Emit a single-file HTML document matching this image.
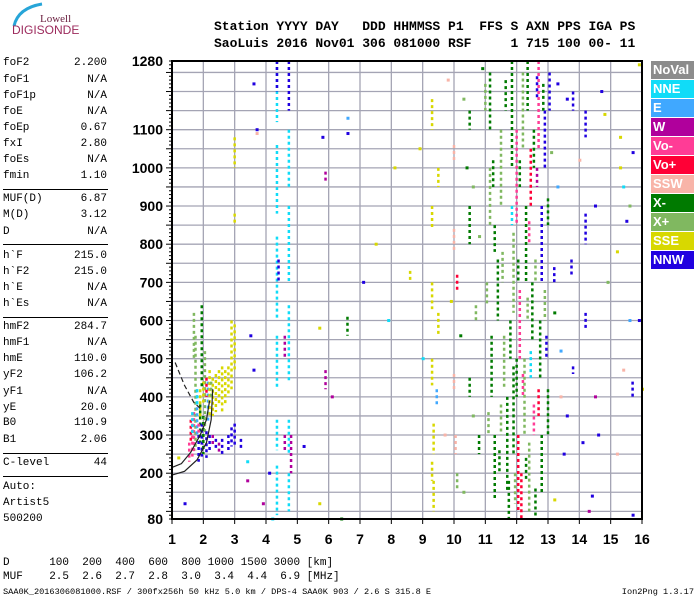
<!DOCTYPE html>
<html><head><meta charset="utf-8"><style>
body{margin:0;background:#fff;width:700px;height:600px;overflow:hidden;position:relative;font-family:"Liberation Mono",monospace}
.t{position:absolute;white-space:pre;color:#000}
.l{position:absolute;left:3px;font-size:11px;font-family:"Liberation Mono",monospace}
.v{position:absolute;right:593px;font-size:11px;font-family:"Liberation Mono",monospace}
.hr{position:absolute;left:3px;width:105px;height:1px;background:#000}
.lg{position:absolute;left:651px;width:43px;height:18px;color:#fff;font:bold 13px "Liberation Sans",sans-serif;line-height:18px;padding-left:2px;box-sizing:border-box}
</style></head><body>
<svg style="position:absolute;left:0;top:0" width="90" height="40">
<path d="M14 26 Q18 8 42 4" stroke="#27a5d8" stroke-width="3" fill="none"/>
<text x="40" y="22" font-family="Liberation Serif,serif" font-size="11" fill="#6b2040">Lowell</text>
<text x="12" y="34" font-family="Liberation Sans,sans-serif" font-size="12" fill="#9c2a5c">DIGISONDE</text>
</svg>
<div class="t" style="left:214px;top:19px;font:bold 13px 'Liberation Mono',monospace">Station YYYY DAY   DDD HHMMSS P1  FFS S AXN PPS IGA PS</div>
<div class="t" style="left:214px;top:36px;font:bold 13px 'Liberation Mono',monospace">SaoLuis 2016 Nov01 306 081000 RSF     1 715 100 00- 11</div>
<div id="params"></div>
<svg id="chart" style="position:absolute;left:0;top:0" width="700" height="560"></svg>
<div id="legend"></div>
<div class="t" style="left:3px;top:557px;font-size:11px">D      100  200  400  600  800 1000 1500 3000 [km]</div>
<div class="t" style="left:3px;top:571px;font-size:11px">MUF    2.5  2.6  2.7  2.8  3.0  3.4  4.4  6.9 [MHz]</div>
<div class="t" style="left:3px;top:587px;font-size:8.6px">SAA0K_2016306081000.RSF / 300fx256h 50 kHz 5.0 km / DPS-4 SAA0K 903 / 2.6 S 315.8 E</div>
<div class="t" style="right:6px;top:587px;font-size:8.6px">Ion2Png 1.3.17</div>
<script>
const paramNames=["foF2","foF1","foF1p","foE","foEp","fxI","foEs","fmin","MUF(D)","M(D)","D","h`F","h`F2","h`E","h`Es","hmF2","hmF1","hmE","yF2","yF1","yE","B0","B1","C-level","Auto:","Artist5","500200"];
const paramValues=["2.200","N/A","N/A","N/A","0.67","2.80","N/A","1.10","6.87","3.12","N/A","215.0","215.0","N/A","N/A","284.7","N/A","110.0","106.2","N/A","20.0","110.9","2.06","44","","",""];
const paramY=[57,74,90,106,122,138,154,170,193,209,226,250,266,282,298,321,337,353,369,386,402,417,434,457,481,497,513];
const dividers=[189,244,317,453,476];
const P=document.getElementById('params');
paramNames.forEach((n,i)=>{
 const a=document.createElement('div');a.className='l';a.style.top=paramY[i]+'px';a.textContent=n;
 
 
 P.appendChild(a);
 const b=document.createElement('div');b.className='v';b.style.top=paramY[i]+'px';b.textContent=paramValues[i];
 
 
 P.appendChild(b);
});
dividers.forEach(y=>{const d=document.createElement('div');d.className='hr';d.style.top=y+'px';
 
 
 P.appendChild(d);});

const legendNames=["NoVal","NNE","E","W","Vo-","Vo+","SSW","X-","X+","SSE","NNW"];
const colors=["#8c8c8c","#10dcf8","#40a8ff","#b0009c","#ff3c96","#ff0036","#f8b4a8","#007a00","#80b860","#d8d800","#2000e0"];
const L=document.getElementById('legend');
legendNames.forEach((n,i)=>{const d=document.createElement('div');d.className='lg';d.style.top=(61+i*19)+'px';d.style.background=colors[i];d.textContent=n;
 
 
 L.appendChild(d);});

const xTicks=[1,2,3,4,5,6,7,8,9,10,11,12,13,14,15,16];
const yTicks=[80,200,300,400,500,600,700,800,900,1000,1100,1280];
// streaks: [freq MHz, h low km, h high km, color index]
const streaks=[
[1.55,230,280,4],[1.65,240,330,4],[1.7,250,360,4],[1.75,260,560,8],[1.8,300,420,2],[1.85,230,300,10],[1.9,280,380,7],[1.95,240,330,10],[2.0,250,350,7],[2.05,300,520,8],[2.1,240,310,10],[2.15,330,440,2],[2.2,350,470,9],[2.3,350,450,9],[2.4,360,460,9],[2.5,380,470,9],[2.6,360,480,9],[2.7,380,470,9],[2.8,400,480,9],[2.9,420,600,9],[3.0,470,590,9],[1.9,340,420,9],[2.0,380,440,9],[1.8,380,420,1],[2.2,260,300,10],[2.4,260,290,10],[2.6,250,290,10],[2.8,260,300,10],[2.9,270,320,10],[3.0,270,330,10],[2.5,250,280,3],[1.7,500,620,8],[1.95,420,640,7],[1.6,280,340,5],[2.1,400,450,5],[1.85,300,330,4],[3.2,260,290,10],[2.3,270,300,3],[1.65,300,360,1],[2.25,400,440,8],
[3.0,1000,1080,9],[3.0,850,880,9],
[4.35,1120,1280,1],[4.35,880,1060,1],[4.35,600,820,1],[4.35,420,560,1],[4.35,260,340,1],[4.35,90,220,1],[4.35,1200,1280,10],[4.4,700,760,10],
[4.73,1150,1280,10],[4.73,950,1100,1],[4.73,700,900,1],[4.73,440,640,1],[4.73,250,340,1],[4.73,100,200,1],[4.6,260,300,3],[4.8,200,300,3],[4.6,500,560,3],
[5.9,960,990,3],[5.9,420,470,3],[6.6,560,610,7],[8.6,700,730,9],
[9.3,1100,1180,9],[9.3,840,900,9],[9.3,630,700,9],[9.3,430,500,9],[9.35,250,330,9],[9.35,100,180,9],[9.5,950,1000,9],[9.5,560,620,9],[9.3,180,230,9],[9.45,380,420,2],
[10.0,1020,1060,6],[10.0,780,840,6],[10.0,420,460,6],[10.05,250,300,6],[10.1,680,720,5],[10.1,160,200,8],
[10.5,1100,1150,7],[10.5,800,900,7],[10.5,400,450,7],[10.7,600,640,8],[10.8,250,300,7],
[11.15,1100,1250,7],[11.15,850,1000,8],[11.2,400,560,7],[11.3,130,300,7],[11.4,600,760,7],[11.5,900,1100,8],[11.6,420,560,8],[11.7,150,400,7],[11.3,780,850,7],[11.5,300,380,8],[11.05,640,700,8],
[11.85,1000,1280,7],[11.9,620,830,8],[11.9,250,480,7],[12.0,850,1100,4],[12.05,100,300,5],[12.1,500,680,4],[12.2,1050,1250,8],[12.25,300,500,8],[12.3,700,900,7],[12.4,100,280,8],[12.5,550,700,7],[12.45,900,1050,5],[12.15,80,200,5],[11.75,80,180,7],[12.35,1150,1280,7],[12.0,400,500,7],
[11.0,1150,1220,8],[11.1,300,360,8],[11.25,950,1020,7],[11.45,200,260,7],[11.55,700,780,8],[11.65,1150,1230,7],[11.8,500,600,7],[11.95,120,200,8],[12.05,700,760,7],[12.1,950,1020,7],[12.2,400,460,4],[12.3,180,240,7],[12.35,600,660,8],[12.4,800,860,4],[12.55,1000,1100,7],[12.55,300,380,4],[12.6,700,760,8],[12.85,1150,1220,7],[12.9,600,680,8],[13.0,850,920,7],[12.7,350,420,5],[12.45,450,520,1],[11.85,850,900,1],[12.65,1180,1240,10],
[12.7,1050,1280,4],[12.8,700,900,10],[12.75,450,600,7],[12.8,150,300,7],[12.9,1000,1150,10],[12.95,500,560,10],[13.0,300,420,7],[12.65,950,1000,3],[12.6,80,160,7],[13.05,1150,1250,10],
[14.2,1080,1150,10],[14.2,800,880,10],[14.2,580,620,10],[13.8,1150,1200,10],[13.75,720,760,10],[13.8,460,480,10],[13.2,700,740,10],[15.7,400,440,10]
];
// isolated dots: [freq, h, color]
const dots=[
[1.4,120,10],[1.2,240,9],[3.4,230,1],[3.4,180,3],[3.5,560,10],[3.6,470,10],[3.9,120,3],[4.1,200,10],[4.2,80,1],[5.2,270,10],[5.7,580,9],[5.7,120,9],[3.6,1220,10],[3.7,1100,10],[3.7,1090,6],[5.8,1080,10],[6.6,1130,2],[6.6,1090,10],[6.1,400,3],[6.4,80,7],[7.1,700,10],[7.5,800,9],[8.1,1000,9],[7.9,600,1],
[13.3,1220,10],[13.6,1180,10],[14.7,1200,10],[14.8,1140,9],[15.3,1080,9],[15.3,1000,9],[15.7,1040,10],[15.9,1270,9],[14.5,900,10],[15.5,860,10],[15.4,950,1],[15.2,780,9],[15.9,600,10],[15.6,600,2],[14.9,700,8],[15.2,250,6],[14.5,400,3],[15.4,470,6],[16.0,420,9],[14.6,300,10],[14.4,140,10],[15.7,90,10],[14.3,100,3],[13.2,130,9],[13.6,350,10],[14.1,280,10],[13.4,520,2],[13.3,950,2],[14.0,1020,6],[15.6,900,8],
[10.3,1180,8],[10.4,1000,7],[10.6,950,8],[10.2,560,7],[10.6,350,8],[10.9,1260,7],[10.8,820,8],[10.3,150,8],[9.8,1230,6],[9.9,650,9],[9.7,300,6],[8.9,1050,9],[9.0,500,1],[13.1,1040,8],[13.2,620,7],[13.4,400,6],[13.5,250,10]
];
// model curves [freq, h]
const curveA=[[1.0,195],[1.4,205],[1.8,235],[2.1,280],[2.25,340],[2.3,420]];
const curveB=[[1.0,215],[1.3,225],[1.6,255],[1.9,300],[2.1,340],[2.2,390]];
const curveC=[[1.1,490],[1.4,430],[1.7,385],[1.9,370]];

const S=document.getElementById('chart'),NS='http://www.w3.org/2000/svg';
const X0=172,X1=642,Y0=61,Y1=519;
const fx=f=>X0+(f-1)*(X1-X0)/15;
const hy=h=>Y1-(h-80)*(Y1-Y0)/1200;
function el(t,a){const e=document.createElementNS(NS,t);for(const k in a)e.setAttribute(k,a[k]);S.appendChild(e);return e;}
for(let h=100;h<=1250;h+=50){const g=el('line',{x1:X0,x2:X1,y1:hy(h),y2:hy(h),stroke:'#a4a4b4','stroke-width':1.3});
 
 }
xTicks.forEach(f=>{
 if(f>1&&f<16){const g=el('line',{x1:fx(f),x2:fx(f),y1:Y0,y2:Y1,stroke:'#a4a4b4','stroke-width':1.3});
 
 }
 el('line',{x1:fx(f),x2:fx(f),y1:Y1,y2:Y1+5,stroke:'#000'});
 const t=el('text',{x:fx(f),y:544,'text-anchor':'middle','font-family':'Liberation Sans,sans-serif','font-weight':'bold','font-size':14});t.textContent=f;
 
 
});
for(let h=80;h<=1280;h+=10){const big=h%50==0;el('line',{x1:X0-(big?6:3),x2:X0,y1:hy(h),y2:hy(h),stroke:'#000','stroke-width':1});}
yTicks.forEach(h=>{const t=el('text',{x:163,y:hy(h)+5,'text-anchor':'end','font-family':'Liberation Sans,sans-serif','font-weight':'bold','font-size':14});t.textContent=h;
 
 });
streaks.forEach(s=>{const r=el('line',{x1:fx(s[0]),x2:fx(s[0]),y1:hy(s[2]),y2:hy(s[1]),stroke:colors[s[3]],'stroke-width':2.5,'stroke-dasharray':'3,3'});
 
 });
dots.forEach(d=>{const r=el('rect',{x:fx(d[0])-1,y:hy(d[1])-1.5,width:3,height:3,fill:colors[d[2]]});
 
 });
function pl(pts,dash,name){const p=el('polyline',{points:pts.map(q=>fx(q[0])+','+hy(q[1])).join(' '),fill:'none',stroke:'#222','stroke-width':1.2,'stroke-dasharray':dash});
 
 }
pl(curveA,'','model-curve-a');pl(curveB,'','model-curve-b');pl(curveC,'5,3','model-curve-dashed');
const b=el('rect',{x:X0,y:Y0,width:X1-X0,height:Y1-Y0,fill:'none',stroke:'#000','stroke-width':2});


</script>
</body></html>
